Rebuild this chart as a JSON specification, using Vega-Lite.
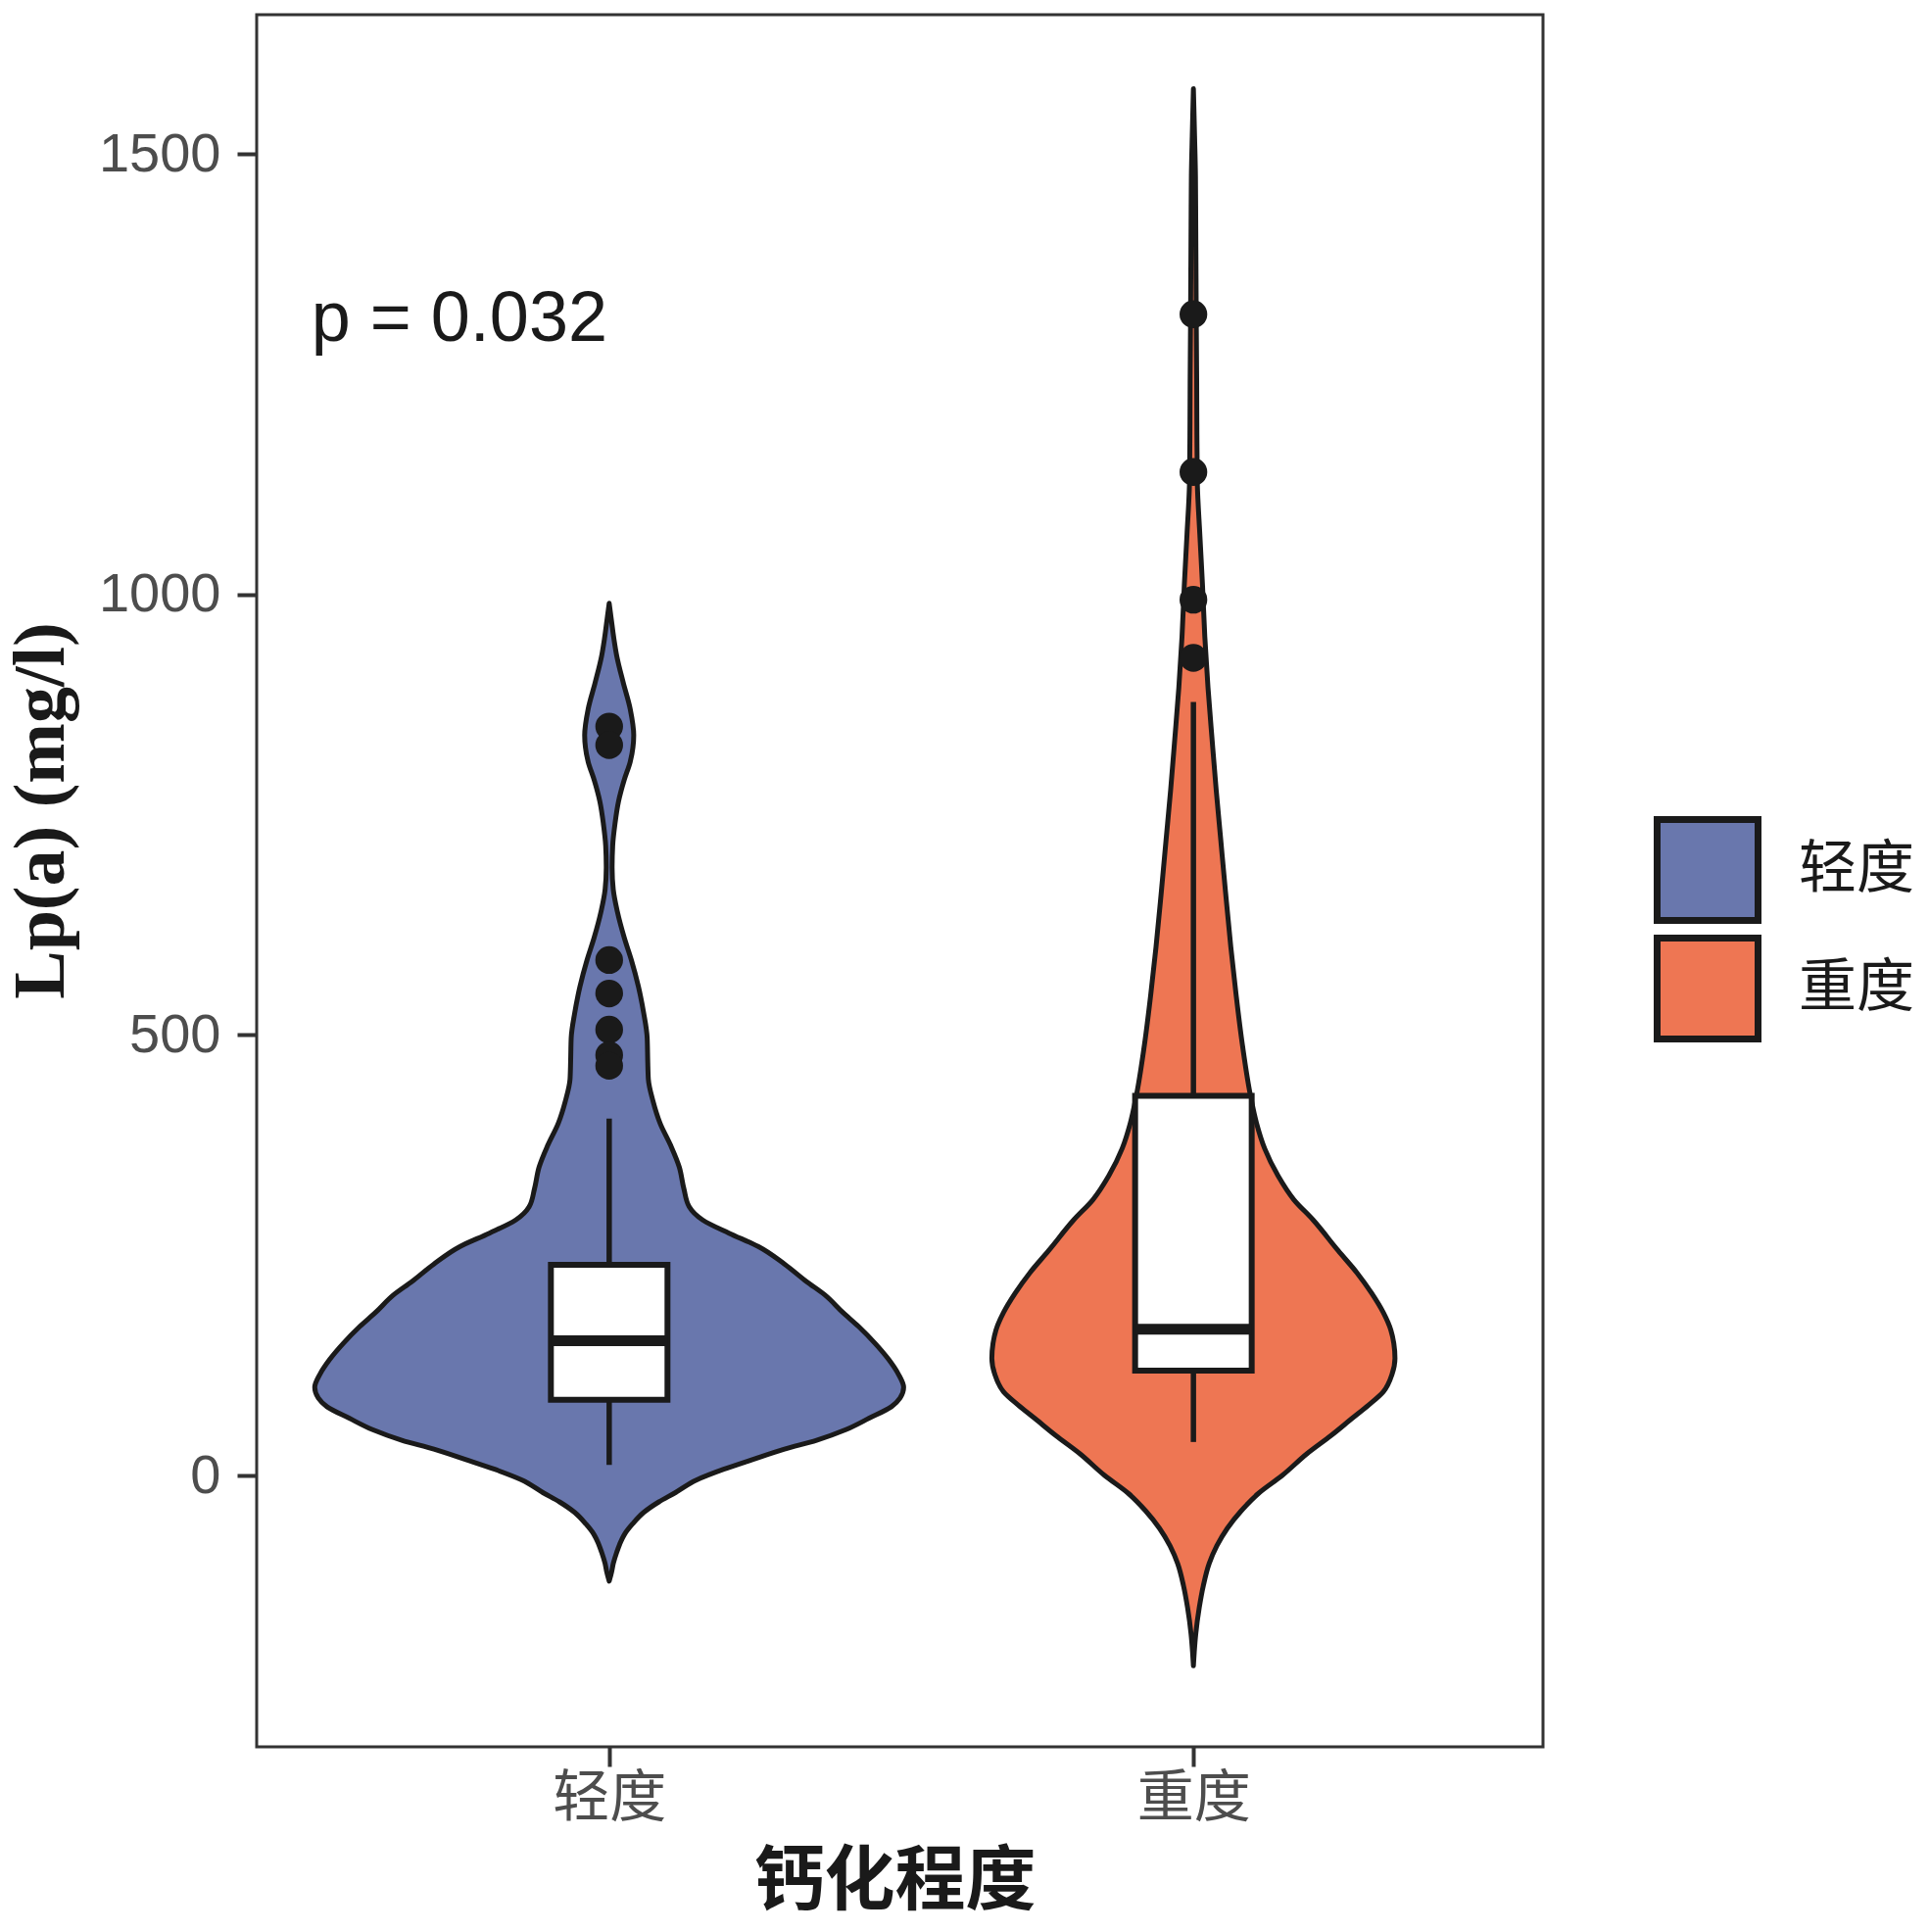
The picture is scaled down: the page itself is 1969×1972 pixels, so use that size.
{
  "$schema": "https://vega.github.io/schema/vega-lite/v6.json",
  "width": 1313,
  "height": 1768,
  "autosize": {"type": "none"},
  "padding": {"left": 262, "top": 15, "right": 394, "bottom": 189},
  "background": "white",
  "config": {
    "view": {"stroke": "#333333", "strokeWidth": 3},
    "axis": {"grid": false, "domain": false}
  },
  "datasets": {
    "violin": [
      {"g":"轻度","y":990,"w":0},{"g":"轻度","y":975,"w":0.003},{"g":"轻度","y":950,"w":0.008},{"g":"轻度","y":930,"w":0.013},
      {"g":"轻度","y":900,"w":0.024},{"g":"轻度","y":870,"w":0.036},{"g":"轻度","y":840,"w":0.042},{"g":"轻度","y":810,"w":0.036},
      {"g":"轻度","y":790,"w":0.026},{"g":"轻度","y":765,"w":0.016},{"g":"轻度","y":740,"w":0.01},{"g":"轻度","y":715,"w":0.006},
      {"g":"轻度","y":690,"w":0.005},{"g":"轻度","y":665,"w":0.007},{"g":"轻度","y":640,"w":0.014},{"g":"轻度","y":610,"w":0.026},
      {"g":"轻度","y":585,"w":0.038},{"g":"轻度","y":555,"w":0.05},{"g":"轻度","y":525,"w":0.059},{"g":"轻度","y":497,"w":0.065},
      {"g":"轻度","y":470,"w":0.066},{"g":"轻度","y":450,"w":0.067},{"g":"轻度","y":425,"w":0.075},{"g":"轻度","y":400,"w":0.087},
      {"g":"轻度","y":375,"w":0.105},{"g":"轻度","y":350,"w":0.12},{"g":"轻度","y":325,"w":0.128},{"g":"轻度","y":305,"w":0.137},
      {"g":"轻度","y":290,"w":0.16},{"g":"轻度","y":275,"w":0.205},{"g":"轻度","y":260,"w":0.255},{"g":"轻度","y":240,"w":0.3},
      {"g":"轻度","y":220,"w":0.338},{"g":"轻度","y":205,"w":0.369},{"g":"轻度","y":185,"w":0.4},{"g":"轻度","y":169,"w":0.427},
      {"g":"轻度","y":150,"w":0.455},{"g":"轻度","y":132,"w":0.478},{"g":"轻度","y":115,"w":0.495},{"g":"轻度","y":100,"w":0.504},
      {"g":"轻度","y":88,"w":0.498},{"g":"轻度","y":78,"w":0.483},{"g":"轻度","y":65,"w":0.445},{"g":"轻度","y":52,"w":0.405},
      {"g":"轻度","y":40,"w":0.355},{"g":"轻度","y":30,"w":0.3},{"g":"轻度","y":18,"w":0.245},{"g":"轻度","y":7,"w":0.196},
      {"g":"轻度","y":-5,"w":0.15},{"g":"轻度","y":-20,"w":0.112},{"g":"轻度","y":-30,"w":0.085},{"g":"轻度","y":-42,"w":0.059},
      {"g":"轻度","y":-55,"w":0.04},{"g":"轻度","y":-66,"w":0.027},{"g":"轻度","y":-78,"w":0.018},{"g":"轻度","y":-87,"w":0.013},
      {"g":"轻度","y":-100,"w":0.007},{"g":"轻度","y":-110,"w":0.004},{"g":"轻度","y":-120,"w":0},
      {"g":"重度","y":1574,"w":0},{"g":"重度","y":1520,"w":0.002},{"g":"重度","y":1475,"w":0.0035},{"g":"重度","y":1420,"w":0.004},
      {"g":"重度","y":1359,"w":0.0045},{"g":"重度","y":1300,"w":0.005},{"g":"重度","y":1243,"w":0.0056},{"g":"重度","y":1180,"w":0.006},
      {"g":"重度","y":1127,"w":0.0067},{"g":"重度","y":1068,"w":0.011},{"g":"重度","y":1010,"w":0.0156},{"g":"重度","y":952,"w":0.0195},
      {"g":"重度","y":894,"w":0.025},{"g":"重度","y":835,"w":0.032},{"g":"重度","y":778,"w":0.039},{"g":"重度","y":720,"w":0.047},
      {"g":"重度","y":662,"w":0.055},{"g":"重度","y":600,"w":0.064},{"g":"重度","y":546,"w":0.073},{"g":"重度","y":488,"w":0.084},
      {"g":"重度","y":430,"w":0.098},{"g":"重度","y":400,"w":0.108},{"g":"重度","y":371,"w":0.122},{"g":"重度","y":340,"w":0.145},
      {"g":"重度","y":313,"w":0.172},{"g":"重度","y":290,"w":0.205},{"g":"重度","y":255,"w":0.248},{"g":"重度","y":230,"w":0.28},
      {"g":"重度","y":207,"w":0.305},{"g":"重度","y":185,"w":0.325},{"g":"重度","y":165,"w":0.338},{"g":"重度","y":150,"w":0.343},
      {"g":"重度","y":133,"w":0.345},{"g":"重度","y":115,"w":0.34},{"g":"重度","y":95,"w":0.325},{"g":"重度","y":80,"w":0.3},
      {"g":"重度","y":65,"w":0.272},{"g":"重度","y":45,"w":0.235},{"g":"重度","y":25,"w":0.195},{"g":"重度","y":0,"w":0.152},
      {"g":"重度","y":-20,"w":0.112},{"g":"重度","y":-40,"w":0.082},{"g":"重度","y":-60,"w":0.058},{"g":"重度","y":-80,"w":0.04},
      {"g":"重度","y":-100,"w":0.027},{"g":"重度","y":-125,"w":0.017},{"g":"重度","y":-150,"w":0.01},{"g":"重度","y":-180,"w":0.004},
      {"g":"重度","y":-200,"w":0.0015},{"g":"重度","y":-216,"w":0}
    ],
    "box": [
      {"g":"轻度","lower":12,"q1":86,"median":153,"q3":239,"upper":405},
      {"g":"重度","lower":38,"q1":119,"median":166,"q3":431,"upper":878}
    ],
    "outliers": [
      {"g":"轻度","y":850},{"g":"轻度","y":829},{"g":"轻度","y":585},{"g":"轻度","y":547},
      {"g":"轻度","y":506},{"g":"轻度","y":477},{"g":"轻度","y":465},
      {"g":"重度","y":1318},{"g":"重度","y":1139},{"g":"重度","y":994},{"g":"重度","y":928}
    ],
    "note": [{"label":"p = 0.032","x":0.49,"y":1288}]
  },
  "layer": [
    {
      "data": {"name": "violin"},
      "transform": [
        {"calculate": "datum.g === '轻度' ? 1 : 2", "as": "pos"},
        {"calculate": "datum.pos - datum.w", "as": "lo"},
        {"calculate": "datum.pos + datum.w", "as": "hi"}
      ],
      "mark": {"type": "area", "orient": "horizontal", "interpolate": "monotone", "stroke": "#1a1a1a", "strokeWidth": 5, "opacity": 1, "fillOpacity": 1, "strokeJoin": "round"},
      "encoding": {
        "y": {"field": "y", "type": "quantitative", "scale": {"domain": [-308, 1658], "nice": false, "zero": false},
          "axis": {"values": [0, 500, 1000, 1500], "format": "d", "title": "Lp(a)  (mg/l)", "tickSize": 20, "tickWidth": 4, "tickColor": "#333333",
            "labelFont": "Liberation Sans", "labelFontSize": 56, "labelColor": "#4d4d4d", "labelPadding": 17,
            "titleFont": "Liberation Serif", "titleFontSize": 74, "titleFontWeight": "bold", "titleColor": "#1a1a1a",
            "titleX": -220, "titleY": 812, "titleBaseline": "middle", "titleAngle": 270}},
        "x": {"field": "lo", "type": "quantitative", "stack": null, "scale": {"domain": [0.405, 2.59], "nice": false, "zero": false},
          "axis": {"values": [1, 2], "labelExpr": "datum.value === 1 ? '轻度' : '重度'", "title": "钙化程度", "tickSize": 20, "tickWidth": 4, "tickColor": "#333333",
            "labelFont": "Noto Sans CJK SC", "labelFontSize": 58, "labelColor": "#4d4d4d", "labelPadding": 4,
            "titleFont": "Noto Sans CJK SC", "titleFontSize": 72, "titleFontWeight": "bold", "titleColor": "#1a1a1a",
            "titleX": 651, "titleY": 137, "titleBaseline": "middle"}},
        "x2": {"field": "hi"},
        "color": {"field": "g", "type": "nominal", "scale": {"domain": ["轻度", "重度"], "range": ["#6977ad", "#ee7653"]},
          "legend": {"orient": "none", "legendX": 1426, "legendY": 818, "title": null, "symbolType": "square", "symbolSize": 10609,
            "symbolStrokeColor": "#1a1a1a", "symbolStrokeWidth": 7, "symbolOpacity": 1, "labelFont": "Noto Sans CJK SC",
            "labelFontSize": 59, "labelColor": "#1a1a1a", "labelOffset": 38, "rowPadding": -20}}
      }
    },
    {
      "data": {"name": "box"},
      "transform": [{"calculate": "datum.g === '轻度' ? 1 : 2", "as": "pos"}],
      "mark": {"type": "rule", "stroke": "#1a1a1a", "strokeWidth": 5.5},
      "encoding": {
        "x": {"field": "pos", "type": "quantitative", "scale": {"domain": [0.405, 2.59], "nice": false, "zero": false}},
        "y": {"field": "lower", "type": "quantitative", "scale": {"domain": [-308, 1658], "nice": false, "zero": false}},
        "y2": {"field": "q1"}
      }
    },
    {
      "data": {"name": "box"},
      "transform": [{"calculate": "datum.g === '轻度' ? 1 : 2", "as": "pos"}],
      "mark": {"type": "rule", "stroke": "#1a1a1a", "strokeWidth": 5.5},
      "encoding": {
        "x": {"field": "pos", "type": "quantitative", "scale": {"domain": [0.405, 2.59], "nice": false, "zero": false}},
        "y": {"field": "q3", "type": "quantitative", "scale": {"domain": [-308, 1658], "nice": false, "zero": false}},
        "y2": {"field": "upper"}
      }
    },
    {
      "data": {"name": "box"},
      "transform": [{"calculate": "datum.g === '轻度' ? 1 : 2", "as": "pos"}],
      "mark": {"type": "bar", "size": 119, "fill": "white", "stroke": "#1a1a1a", "strokeWidth": 6, "opacity": 1},
      "encoding": {
        "x": {"field": "pos", "type": "quantitative", "scale": {"domain": [0.405, 2.59], "nice": false, "zero": false}},
        "y": {"field": "q1", "type": "quantitative", "scale": {"domain": [-308, 1658], "nice": false, "zero": false}},
        "y2": {"field": "q3"}
      }
    },
    {
      "data": {"name": "box"},
      "transform": [{"calculate": "datum.g === '轻度' ? 1 : 2", "as": "pos"}],
      "mark": {"type": "tick", "orient": "horizontal", "size": 119, "thickness": 11, "color": "#1a1a1a", "opacity": 1},
      "encoding": {
        "x": {"field": "pos", "type": "quantitative", "scale": {"domain": [0.405, 2.59], "nice": false, "zero": false}},
        "y": {"field": "median", "type": "quantitative", "scale": {"domain": [-308, 1658], "nice": false, "zero": false}}
      }
    },
    {
      "data": {"name": "outliers"},
      "transform": [{"calculate": "datum.g === '轻度' ? 1 : 2", "as": "pos"}],
      "mark": {"type": "circle", "size": 800, "color": "#1a1a1a", "opacity": 1},
      "encoding": {
        "x": {"field": "pos", "type": "quantitative", "scale": {"domain": [0.405, 2.59], "nice": false, "zero": false}},
        "y": {"field": "y", "type": "quantitative", "scale": {"domain": [-308, 1658], "nice": false, "zero": false}}
      }
    },
    {
      "data": {"name": "note"},
      "mark": {"type": "text", "align": "left", "baseline": "alphabetic", "font": "Liberation Sans", "fontSize": 72, "color": "#1a1a1a"},
      "encoding": {
        "x": {"field": "x", "type": "quantitative", "scale": {"domain": [0.405, 2.59], "nice": false, "zero": false}},
        "y": {"field": "y", "type": "quantitative", "scale": {"domain": [-308, 1658], "nice": false, "zero": false}},
        "text": {"field": "label"}
      }
    }
  ]
}
